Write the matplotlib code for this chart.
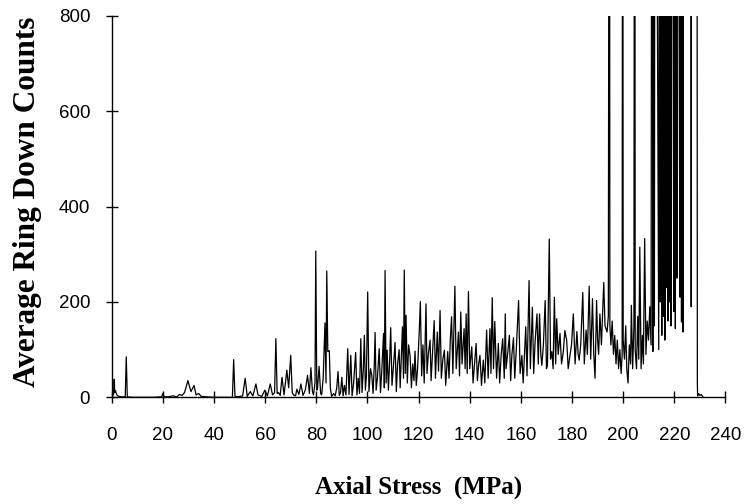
#!/usr/bin/env python3
"""Average ring down counts vs axial stress (acoustic emission trace)."""

import matplotlib
matplotlib.use('Agg')
import matplotlib.pyplot as plt

# Data, in segments (stress in MPa, counts)
# values above 800 run off the top of the chart
stress_quiet = [0.0, 0.3, 0.7, 1.0, 1.2, 1.5, 1.8, 2.2, 2.8, 3.8, 5.3, 5.7, 6.1,
                8.0, 12.0, 16.0, 19.5, 20.0, 20.5, 22.0, 24.0, 25.5, 26.5, 27.5,
                28.5, 29.8, 31.0, 32.2, 33.0, 34.0, 35.0, 37.0, 40.0, 44.0, 47.2]
counts_quiet = [0, 12, 5, 38, 10, 14, 8, 4, 2, 1, 1, 85, 1,
                0, 0, 0, 1, 8, 1, 1, 3, 1, 6, 4,
                10, 35, 12, 25, 5, 8, 2, 1, 0, 0, 0]

stress_onset = [47.7, 48.2, 49.2, 51.2, 52.2, 53.0, 54.2, 55.2, 56.4, 57.2, 58.7,
                59.9, 60.9, 62.0, 62.9, 63.7, 64.2, 64.7, 65.2, 65.9, 66.6, 67.4,
                68.5, 69.2, 70.0, 70.6, 71.1, 71.9, 72.4, 73.2, 74.0, 74.8, 75.7,
                76.6, 77.3, 77.9, 78.5, 78.9, 79.5, 79.8, 80.2, 80.5, 81.1, 81.7,
                82.1, 82.7, 83.4, 83.8, 84.1, 84.5, 85.1, 85.5, 86.0]
counts_onset = [79, 2, 1, 3, 40, 2, 12, 3, 28, 5, 2,
                15, 3, 28, 5, 10, 123, 8, 10, 4, 42, 5,
                57, 20, 88, 10, 5, 3, 17, 6, 28, 4, 15,
                46, 8, 62, 12, 5, 30, 307, 15, 20, 65, 8,
                5, 40, 156, 30, 265, 96, 98, 20, 2]

stress_rise = [86.8, 87.4, 88.0, 88.5, 89.0, 89.5, 90.0, 90.5, 91.0, 91.6, 92.3,
               92.8, 93.5, 94.0, 94.6, 95.4, 95.9, 96.4, 96.9, 97.4, 97.9, 98.4,
               98.8, 99.2, 99.6, 100.1, 100.6]
counts_rise = [8, 3, 20, 54, 4, 10, 42, 3, 25, 5, 102,
               6, 88, 3, 30, 94, 5, 40, 8, 123, 10, 60,
               130, 15, 45, 221, 12]

stress_mid = [101.2, 101.7, 102.2, 102.7, 103.0, 103.4, 103.9, 104.6, 105.1, 105.6,
              106.3, 106.6, 106.9, 107.3, 107.7, 108.2, 108.7, 109.1, 109.6, 110.1,
              110.8, 111.3, 111.8, 112.4, 112.8, 113.3, 113.7, 114.1, 114.4, 114.8,
              115.1, 115.6, 116.1, 116.7, 117.2, 117.7, 118.2, 118.6, 119.1, 119.6,
              120.2]
counts_mid = [60, 47, 8, 70, 136, 15, 40, 102, 10, 55,
              134, 20, 266, 30, 99, 15, 80, 146, 25, 60,
              115, 12, 70, 100, 20, 90, 148, 40, 267, 50,
              172, 30, 110, 86, 20, 70, 35, 97, 25, 60,
              130]

stress_steady = [120.7, 121.2, 121.7, 122.2, 122.9, 123.3, 123.8, 124.5, 124.9, 125.5,
                 126.1, 126.6, 127.3, 127.8, 128.4, 128.9, 129.5, 130.1, 130.6, 131.4,
                 131.9, 132.4, 132.9, 133.4, 134.2, 134.7, 135.6, 136.0, 136.5, 137.0,
                 137.8, 138.2, 138.6, 139.0, 139.5, 140.0, 140.8, 141.3, 142.0, 142.5,
                 143.0, 143.5, 144.0, 144.6, 145.3, 145.9, 146.6, 147.2, 147.9, 148.3,
                 148.8, 149.3, 149.8, 150.5, 151.2, 151.7, 152.3, 152.9, 153.5, 153.9,
                 154.2, 154.8, 155.5, 156.0]
counts_steady = [201, 45, 110, 30, 196, 50, 90, 120, 35, 100,
                 161, 40, 137, 55, 182, 40, 80, 99, 25, 96,
                 40, 120, 169, 50, 233, 60, 137, 45, 179, 70,
                 144, 60, 175, 50, 222, 60, 106, 30, 80, 113,
                 35, 70, 88, 25, 78, 30, 141, 40, 144, 50,
                 209, 60, 159, 40, 113, 30, 90, 123, 40, 175,
                 60, 90, 130, 35]

stress_late = [156.5, 157.1, 157.6, 158.2, 159.1, 159.7, 160.4, 160.9, 161.4, 161.9,
               162.4, 163.2, 163.7, 164.5, 165.0, 165.6, 166.3, 166.8, 167.3, 167.8,
               168.2, 168.8, 169.5, 170.0, 170.4, 171.1, 171.6, 172.1, 172.6, 173.1,
               173.6, 174.0, 174.6, 175.3, 175.9, 176.6, 177.2, 177.9, 178.5, 179.2,
               179.8, 180.5, 181.2, 181.9, 182.4, 182.8, 183.4, 184.2, 184.8, 185.5,
               186.0, 186.7, 187.3, 188.0, 188.5, 189.0, 189.6, 190.0, 190.4, 190.9,
               191.5]
counts_late = [90, 125, 40, 100, 203, 50, 88, 30, 90, 148,
               45, 245, 60, 189, 50, 120, 175, 70, 175, 90,
               67, 110, 203, 60, 67, 332, 80, 96, 60, 210,
               70, 165, 90, 134, 70, 96, 140, 120, 60, 88,
               110, 175, 70, 138, 90, 78, 110, 220, 70, 141,
               90, 233, 80, 207, 90, 40, 203, 120, 90, 175,
               110]

stress_failure = [192.4, 192.9, 193.7, 194.2, 194.6, 194.8, 195.2, 195.7, 196.2, 196.7,
                  197.2, 197.7, 198.2, 198.7, 199.2, 199.6, 199.8, 200.0, 200.5, 201.0,
                  201.4, 201.9, 202.4, 202.9, 203.2, 203.7, 204.2, 204.5, 204.7, 205.2,
                  205.7, 206.1, 206.5, 207.0, 207.5, 207.9, 208.4, 208.9, 209.4, 209.9,
                  210.4, 210.9]
counts_failure = [241, 150, 137, 170, 2000, 150, 110, 160, 90, 130,
                  70, 120, 60, 100, 50, 90, 2000, 120, 80, 150,
                  60, 30, 110, 70, 193, 60, 150, 2000, 100, 60,
                  170, 80, 315, 60, 130, 70, 333, 90, 160, 120,
                  190, 110]

stress_burst = [211.3, 211.6, 211.9, 212.2, 212.5, 213.9, 214.2, 214.5, 214.8, 215.1,
                215.4, 215.7, 216.0, 216.3, 216.6, 216.9, 217.2, 217.5, 217.8, 218.1,
                218.4, 218.7, 219.0, 219.8, 220.1, 220.4, 220.7, 221.0, 221.2, 222.2,
                222.5, 222.8, 223.1, 223.4, 223.7, 226.4, 226.6, 226.8, 228.8, 229.0,
                229.1, 229.5, 230.0, 230.5, 231.0, 231.3]
counts_burst = [2000, 96, 2000, 150, 2000, 100, 2000, 200, 2000, 130,
                2000, 170, 2000, 120, 2000, 230, 2000, 160, 2000, 200,
                2000, 150, 2000, 180, 2000, 144, 2000, 250, 2000, 210,
                2000, 158, 2000, 137, 2000, 2000, 190, 2000, 2000, 30,
                3, 8, 4, 6, 2, 0]

stress = (stress_quiet + stress_onset + stress_rise + stress_mid + stress_steady
          + stress_late + stress_failure + stress_burst)
counts = (counts_quiet + counts_onset + counts_rise + counts_mid + counts_steady
          + counts_late + counts_failure + counts_burst)

x_ticks = list(range(0, 241, 20))
y_ticks = [0, 200, 400, 600, 800]

fig = plt.figure(figsize=(7.49, 5.04), dpi=100)
ax = fig.add_axes([0.1491, 0.2117, 0.8195, 0.7566])

ax.plot(stress, counts, color='black', linewidth=0.9)

ax.set_xlim(0, 240)
ax.set_ylim(0, 800)
ax.set_xticks(x_ticks)
ax.set_yticks(y_ticks)

for side in ('top', 'right'):
    ax.spines[side].set_visible(False)
for side in ('left', 'bottom'):
    ax.spines[side].set_linewidth(1.0)

ax.tick_params(direction='inout', length=9, width=1.0, labelsize=13.5)
ax.tick_params(axis='x', pad=17)
ax.tick_params(axis='y', pad=11)
for lbl in ax.get_xticklabels() + ax.get_yticklabels():
    lbl.set_fontfamily('Liberation Sans')

ax.set_xlabel('Axial Stress  (MPa)', family='Liberation Serif', fontweight='bold',
              fontsize=18, va='center')
ax.xaxis.set_label_coords(0.5, -0.235)
ax.set_ylabel('Average Ring Down Counts', family='Liberation Serif', fontweight='bold',
              fontsize=22.5, va='center')
ax.yaxis.set_label_coords(-0.137, 0.513)

fig.savefig('out.png', dpi=100)
